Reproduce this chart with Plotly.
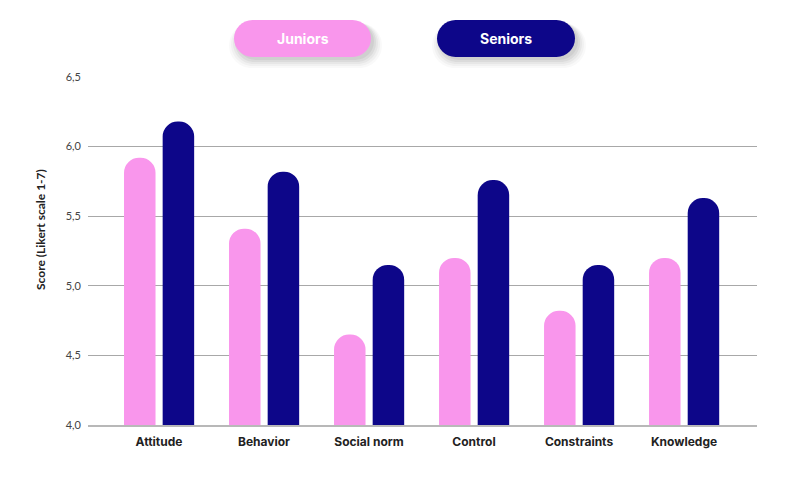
import plotly.graph_objects as go

categories = ["Attitude", "Behavior", "Social norm", "Control", "Constraints", "Knowledge"]
juniors = [5.92, 5.41, 4.65, 5.20, 4.82, 5.20]
seniors = [6.18, 5.82, 5.15, 5.76, 5.15, 5.63]
series_names = ["Juniors", "Seniors"]
ytick_vals = [4.0, 4.5, 5.0, 5.5, 6.0, 6.5]
ytick_text = ["4,0", "4,5", "5,0", "5,5", "6,0", "6,5"]
y_title = "Score (Likert scale 1-7)"

PINK = "#F996EC"
NAVY = "#0D0689"
FONT = "Lato"
FONT2 = "Inter"

W, H = 806, 483
L, R, T, B = 88, 49, 77, 58
PW, PH = W - L - R, H - T - B


def px2paper(x, y):
    return (x - L) / PW, (H - B - y) / PH


def pill_path(x0, y0, x1, y1):
    r = (y1 - y0) / 2
    k = 0.5523 * r
    pts = [
        ("M", [(x0 + r, y0)]),
        ("L", [(x1 - r, y0)]),
        ("C", [(x1 - r + k, y0), (x1, y0 + r - k), (x1, y0 + r)]),
        ("C", [(x1, y0 + r + k), (x1 - r + k, y1), (x1 - r, y1)]),
        ("L", [(x0 + r, y1)]),
        ("C", [(x0 + r - k, y1), (x0, y0 + r + k), (x0, y0 + r)]),
        ("C", [(x0, y0 + r - k), (x0 + r - k, y0), (x0 + r, y0)]),
    ]
    s = ""
    for cmd, ps in pts:
        s += cmd + " " + " ".join("%.5f,%.5f" % px2paper(px, py) for px, py in ps) + " "
    return s + "Z"


fig = go.Figure()
bw = 0.30
fig.add_trace(go.Bar(x=categories, y=juniors, name=series_names[0],
                     marker=dict(color=PINK, line=dict(width=0), cornerradius=16),
                     width=bw, offset=-0.333, showlegend=False))
fig.add_trace(go.Bar(x=categories, y=seniors, name=series_names[1],
                     marker=dict(color=NAVY, line=dict(width=0), cornerradius=16),
                     width=bw, offset=0.035, showlegend=False))

shapes = []
annotations = []
pills = [(234, 20, 371, 57, PINK, series_names[0]), (437, 20, 575, 57, NAVY, series_names[1])]
for x0, y0, x1, y1, col, name in pills:
    for dy, op, grow in [(7, 0.025, 8), (6, 0.03, 6), (5, 0.04, 4), (4, 0.05, 2), (3, 0.05, 0)]:
        shapes.append(dict(type="path", xref="paper", yref="paper",
                           path=pill_path(x0 - grow + 3, y0 + dy - grow / 2, x1 + grow + 3, y1 + dy + grow / 2),
                           fillcolor="rgba(0,0,0,%.3f)" % op, line=dict(width=0), layer="above"))
    shapes.append(dict(type="path", xref="paper", yref="paper", path=pill_path(x0, y0, x1, y1),
                       fillcolor=col, line=dict(width=0), layer="above"))
    cx, cy = px2paper((x0 + x1) / 2, (y0 + y1) / 2)
    annotations.append(dict(x=cx, y=cy, xref="paper", yref="paper", text="<b>%s</b>" % name,
                            showarrow=False, font=dict(family=FONT2, size=14, color="white"),
                            xanchor="center", yanchor="middle"))

tx, ty = px2paper(40, 230)
annotations.append(dict(x=tx, y=ty, xref="paper", yref="paper", text="<b>%s</b>" % y_title,
                        textangle=-90, showarrow=False, font=dict(family=FONT, size=12, color="#222"),
                        xanchor="center", yanchor="middle"))

fig.update_layout(
    width=W, height=H, margin=dict(l=L, r=R, t=T, b=B),
    paper_bgcolor="white", plot_bgcolor="white",
    barmode="overlay",
    shapes=shapes, annotations=annotations,
    xaxis=dict(type="category", range=[-0.676, 5.695], showgrid=False, showline=True,
               linecolor="#B8B8B8", linewidth=1.5, zeroline=False,
               tickfont=dict(family=FONT2, size=12, color="#222"), ticks="", ticklabelstandoff=5,
               tickvals=categories, ticktext=["<b>%s</b>" % c for c in categories]),
    yaxis=dict(range=[4, 6.5], tickvals=ytick_vals, ticktext=ytick_text, showgrid=True,
               gridcolor="#A8A8A8", gridwidth=1, zeroline=False, showline=False, ticks="",
               tickfont=dict(family=FONT, size=11, color="#444"), ticklabelstandoff=6),
    font=dict(family=FONT),
)

fig.write_html("out.html")
